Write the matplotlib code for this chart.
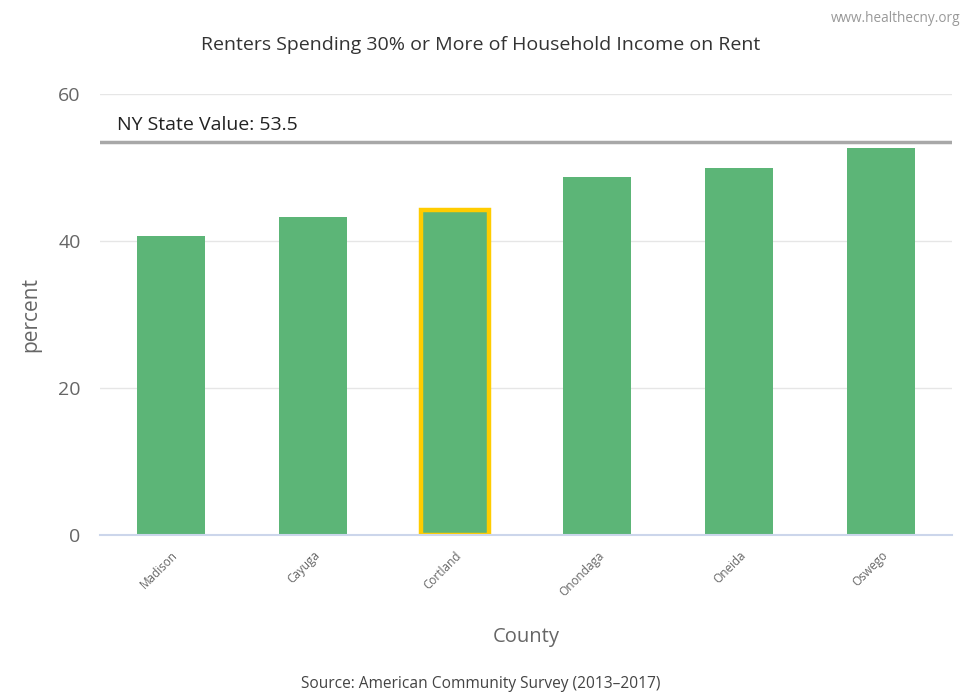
import numpy as np
import matplotlib.pyplot as plt

counties = ["Madison", "Cayuga", "Cortland", "Onondaga", "Oneida", "Oswego"]
values = [40.7, 43.3, 44.2, 48.8, 49.9, 52.7]
highlight = "Cortland"
state_value = 53.5

plt.rcParams['font.family'] = ['Open Sans', 'DejaVu Sans']

fig = plt.figure(figsize=(9.62, 6.93), dpi=100)
ax = fig.add_axes([0.104, 0.228, 0.886, 0.636])

x = np.arange(len(counties))
colors = ["#5cb577"] * len(counties)
edges = ["#ffcc00" if c == highlight else "none" for c in counties]
widths = [3.2 if c == highlight else 0 for c in counties]
ax.bar(x, values, width=0.48, color=colors, edgecolor=edges, linewidth=widths, zorder=2)

ax.axhline(state_value, color="#a8a8a8", linewidth=2.5, zorder=3)
ax.text(-0.38, state_value + 1.1, "NY State Value: %.1f" % state_value,
        fontsize=14, color="#222222", va="bottom", ha="left")

ax.set_xlim(-0.5, len(counties) - 0.5)
ax.set_ylim(0, 60)
ax.set_yticks([0, 20, 40, 60])
ax.yaxis.grid(True, color="#e6e6e6", linewidth=1, zorder=0)
ax.set_axisbelow(True)
for s in ["top", "right", "left"]:
    ax.spines[s].set_visible(False)
ax.spines["bottom"].set_color("#ccd6eb")
ax.spines["bottom"].set_linewidth(1.5)
ax.tick_params(axis="y", length=0, labelsize=14, labelcolor="#666666", pad=14)
ax.tick_params(axis="x", length=0, labelsize=8.5, labelcolor="#666666", pad=10)
ax.set_xticks(x)
ax.set_xticklabels(counties, rotation=45, ha="right", rotation_mode="anchor")

ax.set_ylabel("percent", fontsize=15, color="#666666", labelpad=12)
ax.set_xlabel("County", fontsize=14.5, color="#666666", labelpad=20)

fig.text(0.5, 0.935, "Renters Spending 30% or More of Household Income on Rent",
         ha="center", va="center", fontsize=14, color="#333333")
fig.text(0.998, 0.974, "www.healthecny.org", ha="right", va="center",
         fontsize=9.8, color="#999999")
fig.text(0.5, 0.002, "Source: American Community Survey (2013\u20132017)",
         ha="center", va="bottom", fontsize=11.2, color="#444444")

fig.savefig("out.png", dpi=100)
